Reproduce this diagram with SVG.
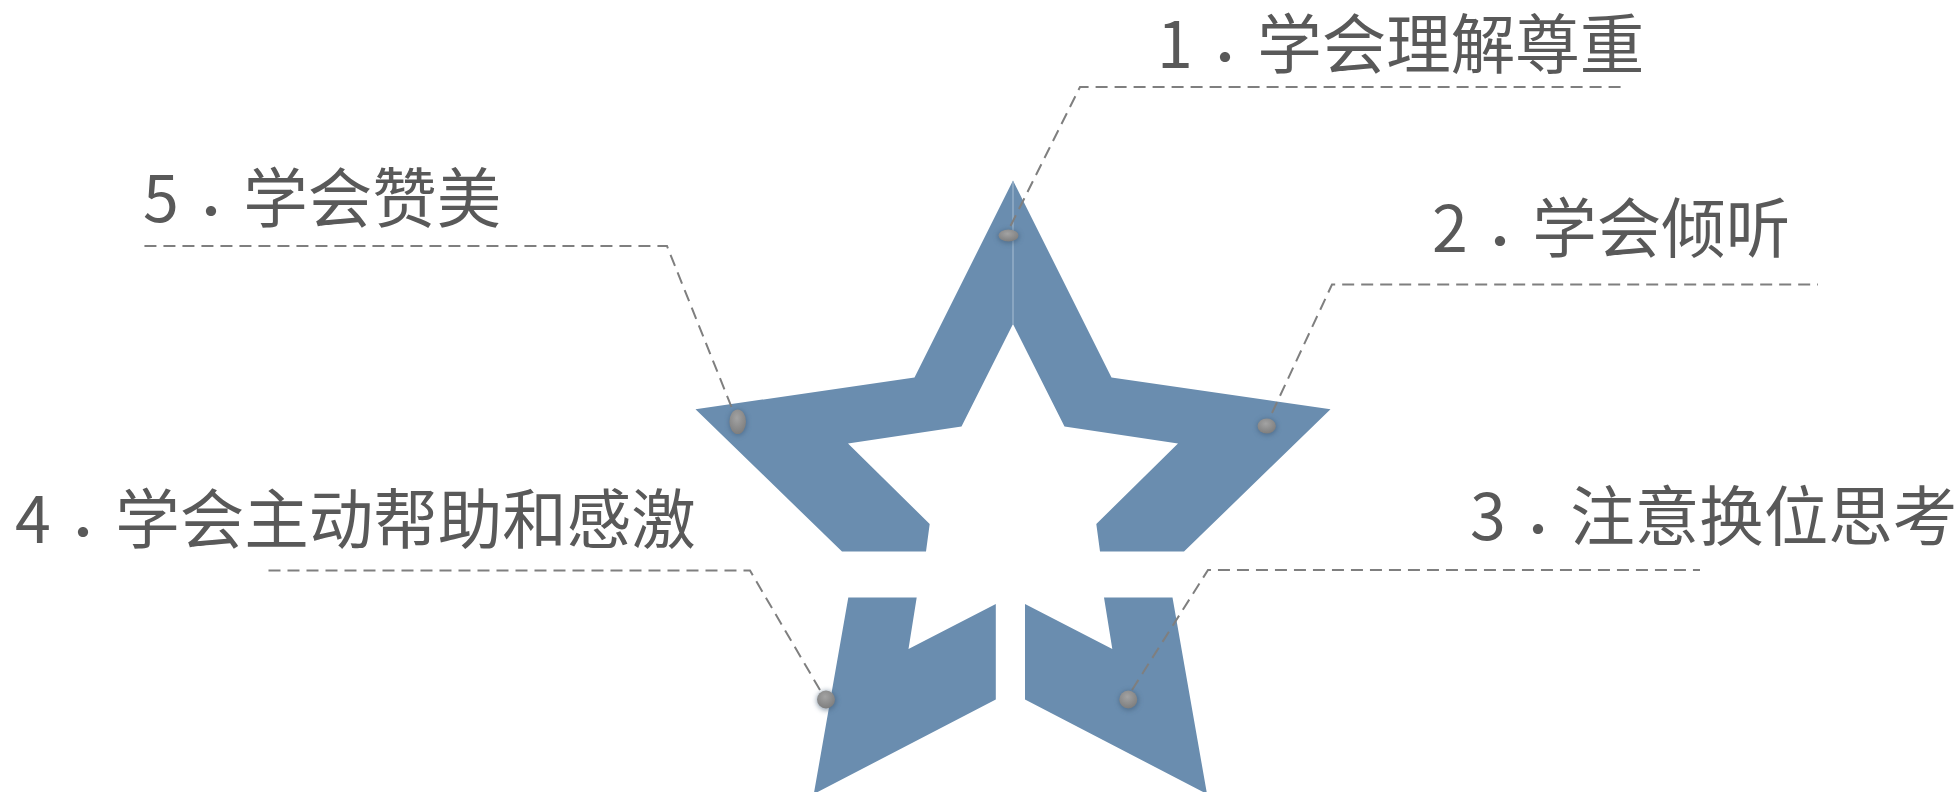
<svg xmlns="http://www.w3.org/2000/svg" width="1956" height="792" viewBox="0 0 1956 792">
<defs>
<style>
.star{fill:#6a8daf}
.lbl{font-family:"Noto Sans CJK SC","Noto Sans",sans-serif;font-size:64.5px;fill:#595959}
.pt{font-family:"Noto Sans CJK TC","Noto Sans CJK SC",sans-serif}
.conn{fill:none;stroke:#7f7f7f;stroke-width:2;stroke-dasharray:12 7}
.dot{fill:url(#dotg)}
.shd{fill:#3c5873;opacity:0.55;filter:url(#blur)}
</style>
<radialGradient id="dotg" cx="0.45" cy="0.35" r="0.7">
<stop offset="0" stop-color="#a3a3a3"/>
<stop offset="1" stop-color="#7b7b7b"/>
</radialGradient>
<filter id="blur" x="-1" y="-1" width="3" height="3"><feGaussianBlur stdDeviation="2.5"/></filter>
</defs>
<rect width="1956" height="792" fill="#ffffff"/>
<g id="star">
<polygon class="star" points="1013,180.5 1111.5,377.5 1330.5,409.3 1184,551.5 1100,551.5 1096.3,524 1178,443.5 1064.5,426.6 1013,324 961.5,426.6 848,443.5 929.7,524 926,551.5 842,551.5 695.5,409.3 914.5,377.5"/>
<line x1="1013" y1="181" x2="1013" y2="324" stroke="#a9bfd4" stroke-width="1"/>
<polygon class="star" points="848.3,597.5 916.7,597.5 908.5,649 995.8,604 995.8,699.5 813.8,794"/>
<polygon class="star" points="1025,604 1112.3,649 1104,597.5 1172.5,597.5 1207,794 1025,699.5"/>
</g>
<g id="connectors">
<polyline class="conn" points="1010.5,226 1080,87 1622,87"/>
<polyline class="conn" points="1272,413 1332,284.5 1818,284.5"/>
<polyline class="conn" points="1132,690 1208,570 1700,570"/>
<polyline class="conn" points="820,690 750,570.5 267,570.5"/>
<polyline class="conn" points="731.5,407 667,246 143,246"/>
</g>
<g id="dots">
<ellipse class="shd" cx="1008.5" cy="236.5" rx="11" ry="7"/>
<ellipse class="dot" cx="1008.5" cy="235.5" rx="10" ry="6"/>
<ellipse class="shd" cx="738" cy="422.5" rx="9" ry="13"/>
<ellipse class="dot" cx="737.7" cy="421.7" rx="8.3" ry="12.3"/>
<ellipse class="shd" cx="1267" cy="427" rx="10" ry="8.5"/>
<ellipse class="dot" cx="1266.7" cy="426" rx="9.2" ry="7.6"/>
<ellipse class="shd" cx="826.5" cy="700.5" rx="10" ry="10"/>
<ellipse class="dot" cx="826" cy="699.5" rx="9" ry="9"/>
<ellipse class="shd" cx="1128.8" cy="700.5" rx="10" ry="10"/>
<ellipse class="dot" cx="1128.3" cy="699.5" rx="9" ry="9"/>
</g>
<g id="label1"><text class="lbl" x="1157" y="68">1<tspan class="pt" dy="14">．</tspan><tspan dy="-14">学会理解尊重</tspan></text></g>
<g id="label2"><text class="lbl" x="1432" y="252">2<tspan class="pt" dy="14">．</tspan><tspan dy="-14">学会倾听</tspan></text></g>
<g id="label3"><text class="lbl" x="1470" y="540">3<tspan class="pt" dy="14">．</tspan><tspan dy="-14">注意换位思考</tspan></text></g>
<g id="label4"><text class="lbl" x="15" y="543">4<tspan class="pt" dy="14">．</tspan><tspan dy="-14">学会主动帮助和感激</tspan></text></g>
<g id="label5"><text class="lbl" x="143" y="222">5<tspan class="pt" dy="14">．</tspan><tspan dy="-14">学会赞美</tspan></text></g>
</svg>
